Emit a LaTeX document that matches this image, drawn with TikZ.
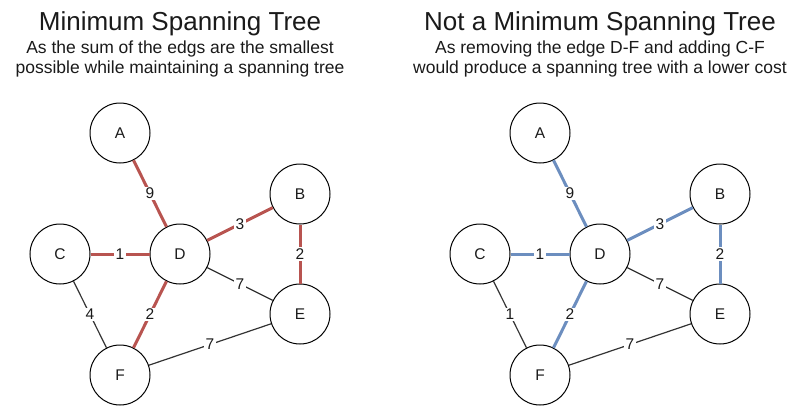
\documentclass[tikz,border=0pt]{standalone}
\usepackage{fontspec}
\setmainfont{Liberation Sans}
\definecolor{treered}{HTML}{B85450}
\definecolor{treeblue}{HTML}{6C8EBF}
\definecolor{ink}{HTML}{1A1A1A}
\begin{document}
\begin{tikzpicture}[x=1pt,y=-1pt,
  vertex/.style={circle,draw=black,line width=1pt,fill=white,minimum size=60pt,inner sep=0pt,font=\fontsize{15.5}{18}\selectfont,text=ink},
  plain/.style={draw=black!80,line width=1.2pt},
  redpath/.style={draw=treered,line width=3pt},
  bluepath/.style={draw=treeblue,line width=3pt},
  weight/.style={fill=white,inner sep=1.5pt,font=\fontsize{15.5}{18}\selectfont,text=ink},
  heading/.style={anchor=base,font=\fontsize{26}{30}\selectfont,text=ink},
  caption/.style={anchor=base,align=center,font=\fontsize{17.5}{19.5}\selectfont,text=ink}]
\useasboundingbox (0,0) rectangle (793,407);

% left: a minimum spanning tree
\node[heading] (t1) at (180,30) {Minimum Spanning Tree};
% the caption's base anchor sits on its last line
\node[caption] (s1) at (180,73) {As the sum of the edgs are the smallest\\possible while maintaining a spanning tree};

\node[vertex] (A1) at (120,133) {A};
\node[vertex] (B1) at (300,194) {B};
\node[vertex] (C1) at (60,254) {C};
\node[vertex] (D1) at (180,254) {D};
\node[vertex] (E1) at (300,314) {E};
\node[vertex] (F1) at (120,375) {F};

\path[redpath] (A1) -- node[weight]{9} (D1);
\path[redpath] (C1) -- node[weight]{1} (D1);
\path[redpath] (D1) -- node[weight]{3} (B1);
\path[redpath] (B1) -- node[weight]{2} (E1);
\path[redpath] (D1) -- node[weight]{2} (F1);
\path[plain] (D1) -- node[weight]{7} (E1);
\path[plain] (C1) -- node[weight]{4} (F1);
\path[plain] (F1) -- node[weight]{7} (E1);

% right: a spanning tree that is not minimal
\node[heading] (t2) at (600,30) {Not a Minimum Spanning Tree};
\node[caption] (s2) at (600,73) {As removing the edge D-F and adding C-F\\would produce a spanning tree with a lower cost};

\node[vertex] (A2) at (540,133) {A};
\node[vertex] (B2) at (720,194) {B};
\node[vertex] (C2) at (480,254) {C};
\node[vertex] (D2) at (600,254) {D};
\node[vertex] (E2) at (720,314) {E};
\node[vertex] (F2) at (540,375) {F};

\path[bluepath] (A2) -- node[weight]{9} (D2);
\path[bluepath] (C2) -- node[weight]{1} (D2);
\path[bluepath] (D2) -- node[weight]{3} (B2);
\path[bluepath] (B2) -- node[weight]{2} (E2);
\path[bluepath] (D2) -- node[weight]{2} (F2);
\path[plain] (D2) -- node[weight]{7} (E2);
\path[plain] (C2) -- node[weight]{1} (F2);
\path[plain] (F2) -- node[weight]{7} (E2);
\end{tikzpicture}
\end{document}
